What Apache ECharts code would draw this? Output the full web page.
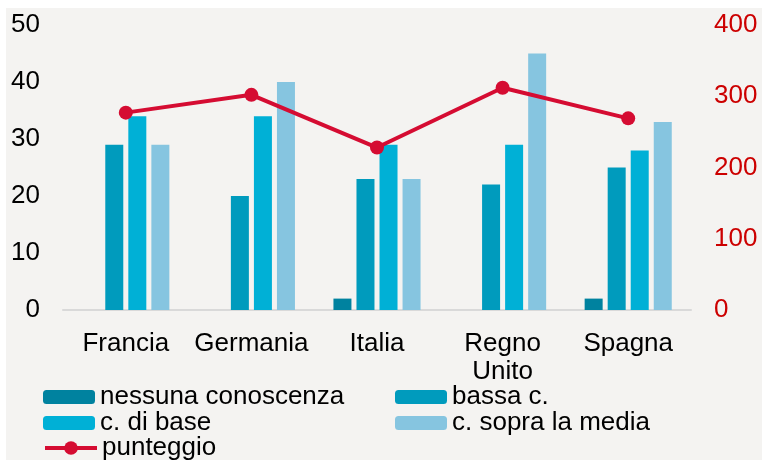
<!DOCTYPE html>
<html>
<head>
<meta charset="utf-8">
<script src="https://cdn.jsdelivr.net/npm/echarts@6/dist/echarts.min.js"></script>
<style>
  html, body { margin: 0; padding: 0; background: #ffffff; }
  #main { width: 762px; height: 460px; }
</style>
</head>
<body>
<div id="main"></div>
<script>
// dati del grafico
var paesi = ['Francia', 'Germania', 'Italia', 'Regno\nUnito', 'Spagna'];
var nessuna = [0, 0, 2, 0, 2];
var bassa = [29, 20, 23, 22, 25];
var base = [34, 34, 29, 29, 28];
var sopra = [29, 40, 23, 45, 33];
var punteggio = [277, 302, 228, 312, 269];

var font = 'Liberation Sans, Arial, sans-serif';

var myChart = echarts.init(document.getElementById('main'));

function barra(nome, dati, colore) {
    return {
        name: nome,
        type: 'bar',
        data: dati,
        barWidth: 18,
        barGap: '28%',
        itemStyle: { color: colore }
    };
}

function voce(nome, x, y, alto) {
    return {
        data: [nome],
        left: x,
        top: y,
        itemWidth: 52,
        itemHeight: alto || 14,
        selectedMode: false,
        lineStyle: { width: 4 },
        textStyle: { fontFamily: font, fontSize: 26, color: '#000' }
    };
}

var option = {
    backgroundColor: '#ffffff',
    animation: false,
    graphic: [{
        type: 'rect',
        left: 6,
        top: 8,
        shape: { width: 756, height: 452 },
        style: { fill: '#f4f3f1' },
        z: -10
    }],
    grid: { left: 63, right: 71, top: 25, bottom: 150 },
    legend: [
        voce('nessuna conoscenza', 38, 379),
        voce('bassa c.', 390, 379),
        voce('c. di base', 38, 405),
        voce('c. sopra la media', 390, 405),
        voce('punteggio', 38, 430, 17)
    ],
    xAxis: {
        type: 'category',
        data: paesi,
        axisLine: { lineStyle: { color: '#d9d9d9', width: 2 } },
        axisTick: { show: false },
        axisLabel: {
            interval: 0,
            fontFamily: font, fontSize: 26, color: '#000',
            margin: 20, lineHeight: 28
        }
    },
    yAxis: [{
        type: 'value', min: 0, max: 50, interval: 10,
        axisLine: { show: false },
        axisTick: { show: false },
        splitLine: { show: false },
        axisLabel: { fontFamily: font, fontSize: 26, color: '#000', margin: 23 }
    }, {
        type: 'value', min: 0, max: 400, interval: 100,
        axisLine: { show: false },
        axisTick: { show: false },
        splitLine: { show: false },
        axisLabel: { fontFamily: font, fontSize: 26, color: '#cc0000', margin: 23 }
    }],
    series: [
        barra('nessuna conoscenza', nessuna, '#00829f'),
        barra('bassa c.', bassa, '#009bbd'),
        barra('c. di base', base, '#00b0d6'),
        barra('c. sopra la media', sopra, '#86c5e0'),
        {
            name: 'punteggio',
            type: 'line',
            yAxisIndex: 1,
            data: punteggio,
            symbol: 'circle',
            symbolSize: 14,
            lineStyle: { color: '#d50c32', width: 4 },
            itemStyle: { color: '#d50c32' }
        }
    ]
};

myChart.setOption(option);
</script>
</body>
</html>
